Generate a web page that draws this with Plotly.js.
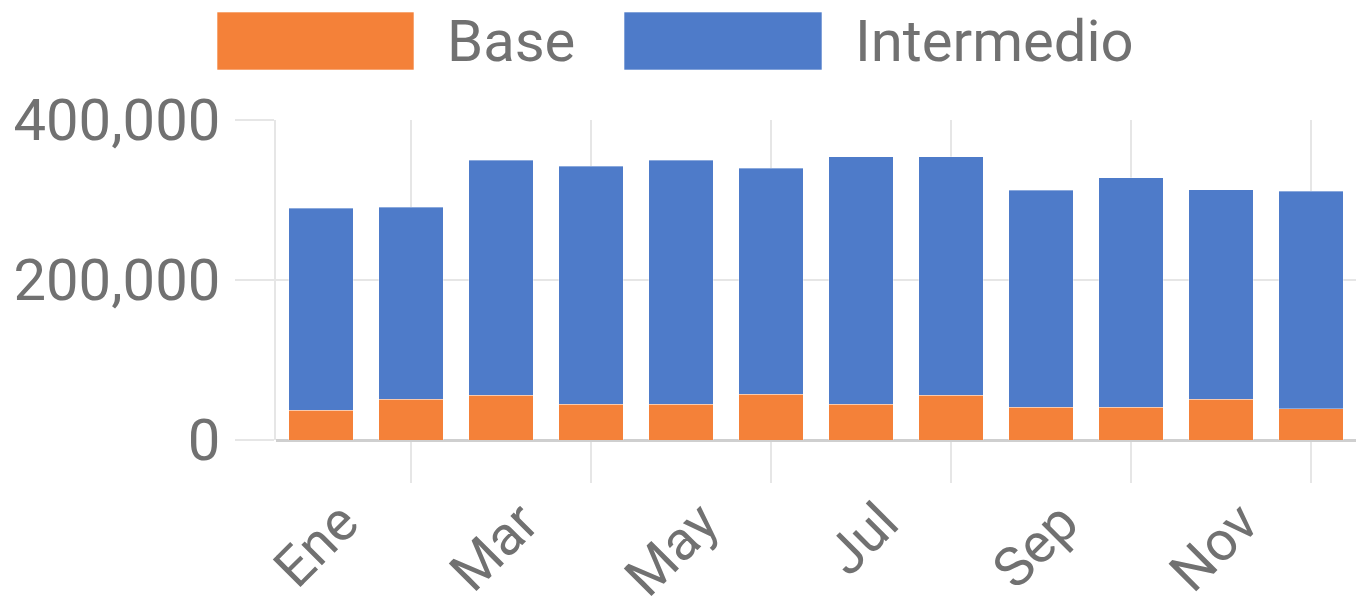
<!DOCTYPE html>
<html>
<head>
<meta charset="utf-8">
<script src="https://cdn.plot.ly/plotly-3.0.1.min.js"></script>
<style>html,body{margin:0;padding:0;background:#fff;}#chart{width:1363px;height:610px;}</style>
</head>
<body>
<div id="chart"></div>
<script>
// ---- data ----
const months = ['Ene','Feb','Mar','Abr','May','Jun','Jul','Ago','Sep','Oct','Nov','Dic'];
const labelMonths = ['Ene','Mar','May','Jul','Sep','Nov'];
const seriesNames = ['Base','Intermedio'];
const baseValues = [37000, 51000, 56000, 45000, 45000, 57000, 45000, 56000, 41000, 41000, 51000, 39000];
const intermedioValues = [253000, 240000, 294000, 297000, 305000, 283000, 309000, 298000, 271000, 287000, 262000, 272000];
const yTicks = [0, 200000, 400000];

// ---- style ----
const colors = ['#f48139', '#4e7bc9'];
const textColor = '#717171';
const gridColor = '#e6e6e6';
const FONT = 'Roboto, "Noto Sans", Arial, sans-serif';
const W = 1363, H = 610;
const M = {l: 276, r: 7, t: 120, b: 170};
const PW = W - M.l - M.r, PH = H - M.t - M.b;
const px = x => (x - M.l) / PW;
const py = y => (H - M.b - y) / PH;

const traces = [
  {type: 'bar', name: seriesNames[0], x: months, y: baseValues,
   marker: {color: colors[0], line: {color: 'rgba(255,255,255,0.35)', width: 1}}, hoverinfo: 'x+y+name'},
  {type: 'bar', name: seriesNames[1], x: months, y: intermedioValues,
   marker: {color: colors[1], line: {color: 'rgba(255,255,255,0.35)', width: 1}}, hoverinfo: 'x+y+name'}
];

// vertical gridlines at every second category (Feb, Abr, ...), extending below the axis like ticks
const shapes = [], annotations = [];
months.forEach((m, i) => {
  if (i % 2 === 1) {
    shapes.push({type: 'line', xref: 'x', yref: 'paper', x0: m, x1: m, y0: -43 / PH, y1: 1,
      layer: 'below', line: {color: gridColor, width: 2}});
  }
});

// custom legend (large swatches like the reference)
const legendBoxes = [[217, 414], [624, 822]];
const legendText = [445, 853];
seriesNames.forEach((n, i) => {
  shapes.push({type: 'rect', xref: 'paper', yref: 'paper',
    x0: px(legendBoxes[i][0]), x1: px(legendBoxes[i][1]), y0: py(70), y1: py(12),
    fillcolor: colors[i], line: {color: 'rgba(255,255,255,0.6)', width: 1}});
  annotations.push({xref: 'paper', yref: 'paper', x: px(legendText[i]), y: py(41),
    xanchor: 'left', yanchor: 'middle', showarrow: false, text: n,
    font: {family: FONT, size: 58, color: textColor}});
});

const layout = {
  width: W, height: H,
  margin: M,
  paper_bgcolor: '#ffffff', plot_bgcolor: '#ffffff',
  barmode: 'stack', bargap: 0.28,
  showlegend: false,
  font: {family: FONT, color: textColor, size: 56},
  xaxis: {
    type: 'category', range: [-0.5, 11.5],
    tickmode: 'array', tickvals: labelMonths, ticktext: labelMonths,
    tickangle: -45, ticks: '', showgrid: false, zeroline: false, showline: false,
    tickfont: {family: FONT, size: 55, color: textColor},
    ticklabelshift: 21, ticklabelstandoff: 38
  },
  yaxis: {
    range: [0, 400000], tickmode: 'array', tickvals: yTicks, tickformat: ',',
    ticks: 'outside', ticklen: 39, tickwidth: 2, tickcolor: gridColor,
    showgrid: true, gridcolor: gridColor, gridwidth: 2,
    zeroline: true, zerolinecolor: '#cfcfcf', zerolinewidth: 3,
    showline: true, linecolor: gridColor, linewidth: 2,
    tickfont: {family: FONT, size: 58, color: textColor},
    ticklabelstandoff: 3
  },
  shapes: shapes,
  annotations: annotations
};

Plotly.newPlot('chart', traces, layout, {displayModeBar: false, responsive: false});
</script>
</body>
</html>
